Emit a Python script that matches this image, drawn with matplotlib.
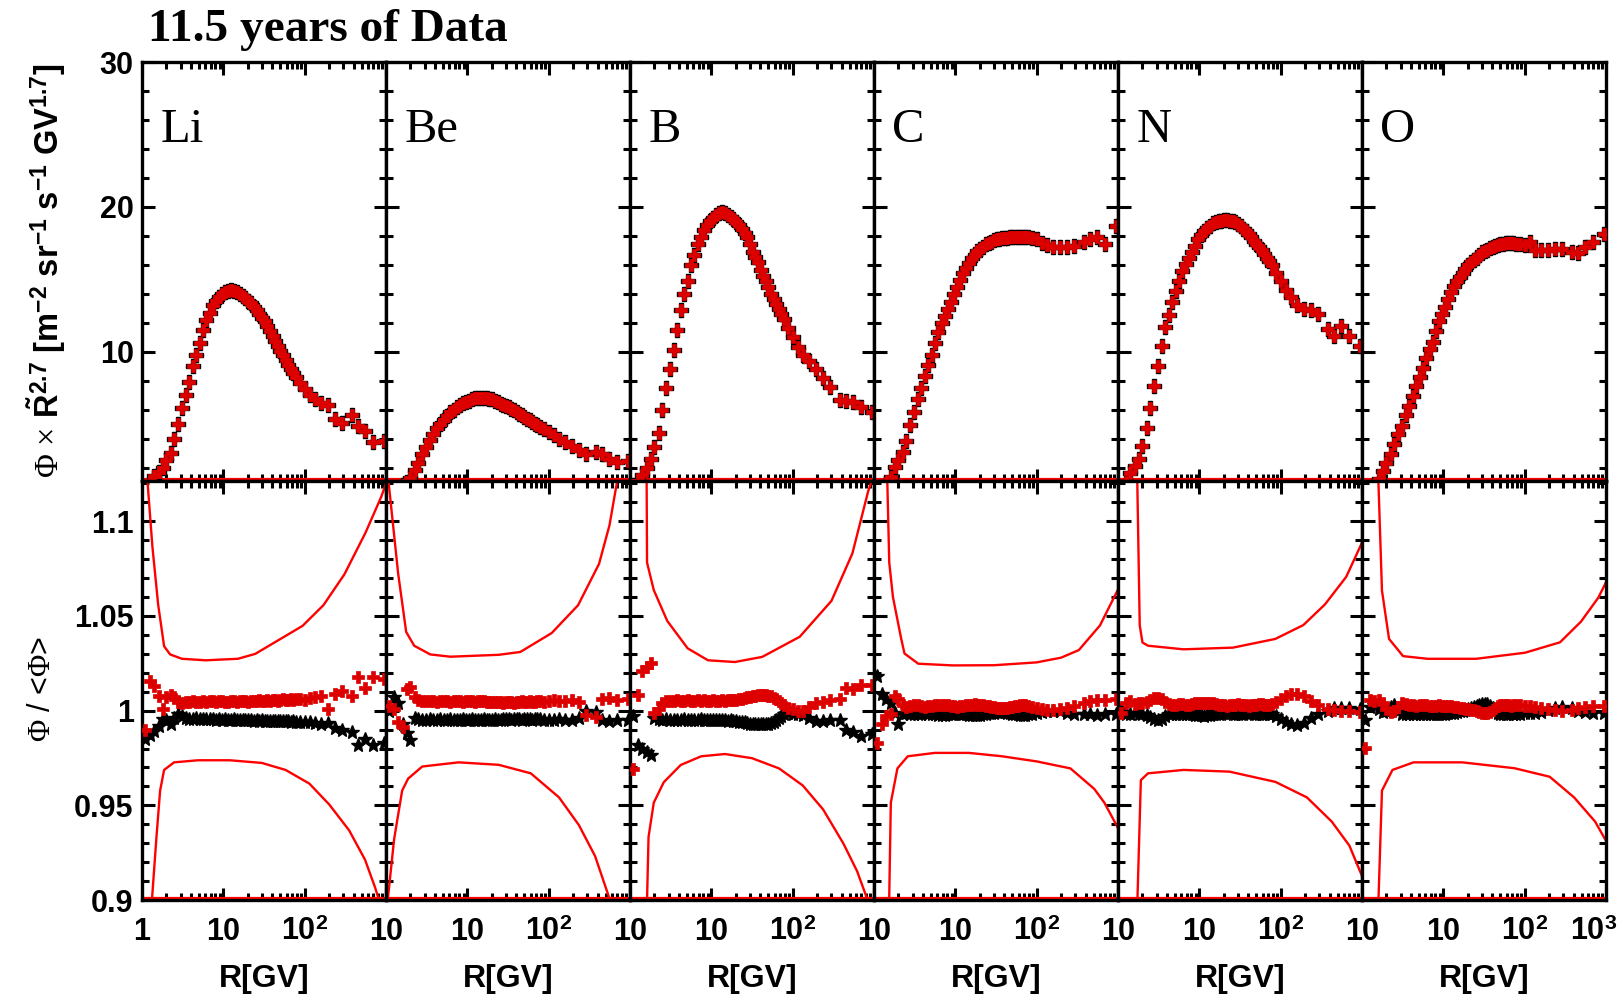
import matplotlib
matplotlib.use("Agg")
import matplotlib.pyplot as plt
from matplotlib.gridspec import GridSpec
from matplotlib.ticker import FixedLocator, FixedFormatter, LogLocator, MultipleLocator, NullFormatter

plt.rcParams['font.family'] = ['Liberation Sans', 'DejaVu Sans']
plt.rcParams['mathtext.fontset'] = 'custom'
plt.rcParams['mathtext.rm'] = 'Liberation Serif'
plt.rcParams['mathtext.it'] = 'Liberation Serif:italic'
plt.rcParams['mathtext.bf'] = 'Liberation Sans:bold'
plt.rcParams['mathtext.sf'] = 'Liberation Sans'

# ---------------- data ----------------
elements = ['Li', 'Be', 'B', 'C', 'N', 'O']

rigidity = [1.1, 1.25, 1.4, 1.6, 1.8, 2.0, 2.25, 2.5, 2.8, 3.1,
            3.45, 3.8, 4.2, 4.65, 5.1, 5.6, 6.2, 6.8, 7.4, 8.1,
            8.9, 9.7, 10.5, 11.5, 12.5, 13.5, 14.7, 15.9, 17.3, 18.7,
            20.3, 21.9, 23.7, 25.7, 27.7, 29.9, 32.3, 34.8, 37.5, 40.4,
            43.5, 46.8, 50.3, 54.1, 58.2, 62.5, 67.2, 72.3, 77.7, 86.5,
            100, 116, 135, 160, 192, 233, 291, 380, 455, 548,
            700, 950]

flux_li = [0.5, 0.9, 1.4, 1.7, 2.0, 2.5, 3.0, 4.0, 5.0, 6.1,
           7.0, 7.9, 9.0, 9.8, 10.6, 11.5, 12.2, 12.7, 13.2, 13.5,
           13.75, 13.95, 14.1, 14.2, 14.25, 14.2, 14.1, 14.0, 13.85, 13.7,
           13.5, 13.35, 13.1, 12.9, 12.6, 12.35, 12.1, 11.8, 11.45, 11.1,
           10.75, 10.4, 10.05, 9.75, 9.4, 9.1, 8.8, 8.5, 8.25, 7.85,
           7.45, 7.0, 6.75, 6.45, 6.3, 5.35, 5.1, 5.65, 4.9, 4.55,
           3.75, 3.85]
flux_be = [0.2, 0.4, 0.6, 0.8, 1.0, 1.3, 1.8, 2.3, 2.9, 3.45,
           3.9, 4.3, 4.7, 5.0, 5.3, 5.55, 5.8, 6.0, 6.15, 6.3,
           6.45, 6.55, 6.62, 6.7, 6.78, 6.8, 6.82, 6.82, 6.8, 6.76,
           6.7, 6.62, 6.5, 6.42, 6.33, 6.25, 6.15, 6.03, 5.95, 5.85,
           5.72, 5.6, 5.47, 5.38, 5.25, 5.15, 5.03, 4.93, 4.83, 4.65,
           4.45, 4.25, 4.0, 3.75, 3.5, 3.2, 2.9, 3.05, 2.95, 2.6,
           2.4, 2.45]
flux_b = [0.8, 1.1, 1.5, 1.95, 2.6, 3.4, 4.4, 6.0, 7.5, 8.8,
          10.1, 11.5, 12.9, 14.0, 14.9, 15.95, 16.7, 17.45, 17.95, 18.4,
          18.75, 19.0, 19.25, 19.45, 19.6, 19.65, 19.6, 19.45, 19.3, 19.15,
          18.98, 18.75, 18.5, 18.2, 17.9, 17.45, 16.9, 16.55, 16.2, 15.65,
          15.25, 14.85, 14.45, 14.0, 13.65, 13.3, 12.95, 12.6, 12.25, 11.65,
          11.0, 10.35, 9.75, 9.35, 8.8, 8.2, 7.55, 6.65, 6.6, 6.5,
          6.2, 5.8]
flux_c = [0.2, 0.5, 0.9, 1.35, 2.05, 2.5, 3.1, 3.85, 4.95, 5.85,
          6.75, 7.5, 8.35, 9.1, 9.8, 10.6, 11.35, 11.95, 12.45, 12.95,
          13.45, 13.95, 14.45, 14.95, 15.4, 15.8, 16.15, 16.45, 16.7, 16.95,
          17.1, 17.25, 17.4, 17.5, 17.6, 17.68, 17.75, 17.78, 17.82, 17.85,
          17.88, 17.9, 17.92, 17.93, 17.93, 17.93, 17.92, 17.9, 17.9, 17.88,
          17.75, 17.5, 17.35, 17.25, 17.25, 17.22, 17.3, 17.55, 17.8, 17.95,
          17.4, 18.7]
flux_n = [0.6, 1.0, 1.6, 2.1, 2.6, 3.5, 4.7, 6.1, 7.6, 9.0,
          10.4, 11.7, 12.5, 13.45, 14.2, 14.85, 15.55, 16.05, 16.45, 16.85,
          17.3, 17.75, 18.05, 18.35, 18.55, 18.7, 18.85, 18.95, 19.0, 19.05,
          19.08, 19.07, 19.05, 19.0, 18.95, 18.8, 18.65, 18.5, 18.35, 18.1,
          17.9, 17.65, 17.45, 17.2, 17.0, 16.75, 16.45, 16.25, 15.95, 15.45,
          14.85, 14.25, 13.75, 13.2, 12.95, 12.9, 12.6, 11.55, 11.05, 11.8,
          11.1, 10.4]
flux_o = [0.2, 0.5, 0.8, 1.2, 1.75, 2.3, 2.9, 3.65, 4.3, 4.9,
          5.6, 6.25, 6.95, 7.65, 8.25, 8.85, 9.55, 10.15, 10.7, 11.4,
          12.1, 12.6, 13.1, 13.65, 14.1, 14.5, 14.9, 15.15, 15.45, 15.7,
          15.95, 16.2, 16.35, 16.5, 16.7, 16.85, 16.95, 17.05, 17.15, 17.25,
          17.3, 17.37, 17.4, 17.45, 17.47, 17.48, 17.48, 17.47, 17.45, 17.4,
          17.37, 17.6, 17.05, 17.0, 17.0, 17.08, 17.1, 16.9, 16.8, 17.2,
          17.6, 18.1]

# ratio Phi/<Phi>: red and black series
ratio_red_li = [0.990, 1.0155, 1.013, 1.008, 1.001, 1.007, 1.0085, 1.007, 1.0045, 1.004,
                1.0045, 1.0045, 1.005, 1.0045, 1.0045, 1.005, 1.0045, 1.005, 1.005, 1.0045,
                1.005, 1.005, 1.0048, 1.0045, 1.005, 1.005, 1.0048, 1.005, 1.0052, 1.005,
                1.0048, 1.005, 1.0052, 1.005, 1.0055, 1.005, 1.0052, 1.0055, 1.005, 1.0055,
                1.0058, 1.0052, 1.0055, 1.006, 1.0055, 1.0058, 1.006, 1.0055, 1.006, 1.0062,
                1.0058, 1.0065, 1.007, 1.0075, 1.001, 1.009, 1.0105, 1.008, 1.018, 1.012,
                1.018, 1.0165]
ratio_blk_li = [0.985, 0.987, 0.9895, 0.992, 0.9955, 0.995, 0.993, 0.996, 0.998, 0.997,
                0.996, 0.9955, 0.9955, 0.996, 0.9955, 0.9955, 0.9958, 0.9955, 0.9955, 0.9952,
                0.9955, 0.9952, 0.9955, 0.9952, 0.995, 0.9955, 0.9952, 0.995, 0.9952, 0.995,
                0.9952, 0.995, 0.9948, 0.995, 0.9948, 0.995, 0.9948, 0.9946, 0.9948, 0.9946,
                0.9948, 0.9945, 0.9946, 0.9944, 0.9946, 0.9944, 0.9942, 0.9945, 0.9942, 0.994,
                0.9942, 0.994, 0.9935, 0.993, 0.9935, 0.991, 0.990, 0.9885, 0.982, 0.985,
                0.982, 0.983]
ratio_red_be = [1.0024, 1.001, 0.994, 0.9915, 1.0115, 1.0124, 1.007, 1.0055, 1.005, 1.005,
                1.0052, 1.005, 1.0048, 1.005, 1.0052, 1.005, 1.0048, 1.005, 1.0052, 1.005,
                1.0048, 1.005, 1.0052, 1.005, 1.0048, 1.005, 1.0052, 1.005, 1.0048, 1.0045,
                1.0048, 1.0045, 1.0048, 1.0045, 1.0042, 1.0045, 1.0048, 1.0045, 1.0042, 1.0045,
                1.0048, 1.005, 1.0045, 1.0048, 1.005, 1.0045, 1.0048, 1.005, 1.0052, 1.0048,
                1.005, 1.0055, 1.0052, 1.005, 1.0058, 1.0045, 0.9975, 0.9965, 1.006, 1.0065,
                1.0058, 1.0062]
ratio_blk_be = [1.0, 1.007, 1.004, 0.9932, 0.988, 0.9845, 0.9962, 0.9955, 0.995, 0.9952,
                0.9955, 0.995, 0.9952, 0.9955, 0.995, 0.9952, 0.9955, 0.995, 0.9952, 0.995,
                0.9955, 0.9952, 0.995, 0.9955, 0.9952, 0.995, 0.9952, 0.9955, 0.995, 0.9952,
                0.995, 0.9955, 0.9952, 0.995, 0.9955, 0.9957, 0.9955, 0.9952, 0.9955, 0.9957,
                0.9955, 0.9952, 0.9955, 0.9958, 0.9955, 0.9952, 0.9955, 0.9957, 0.9955, 0.995,
                0.9952, 0.995, 0.9955, 0.9952, 0.995, 0.996, 1.0, 0.9995, 0.995, 0.9948,
                0.9952, 0.995]
ratio_red_b = [0.969, 1.0085, 1.021, 1.023, 1.025, 0.999, 1.0008, 1.004, 1.005, 1.0052,
               1.005, 1.0055, 1.0052, 1.005, 1.0055, 1.0052, 1.005, 1.0055, 1.0052, 1.0055,
               1.005, 1.0052, 1.0055, 1.005, 1.0052, 1.0055, 1.0052, 1.0055, 1.0058, 1.0055,
               1.0058, 1.006, 1.0062, 1.0065, 1.007, 1.0072, 1.0078, 1.008, 1.0083, 1.0085,
               1.0085, 1.0083, 1.008, 1.0075, 1.0068, 1.006, 1.005, 1.004, 1.003, 1.0015,
               1.0008, 1.0, 0.9998, 1.002, 1.004, 1.0048, 1.0055, 1.006, 1.012, 1.0112,
               1.0138, 1.0135]
ratio_blk_b = [0.997, 0.982, 0.980, 0.978, 0.9768, 0.996, 0.9955, 0.9953, 0.9955, 0.9952,
               0.9953, 0.995, 0.9953, 0.9955, 0.9952, 0.9953, 0.995, 0.9953, 0.9955, 0.9952,
               0.9953, 0.995, 0.9952, 0.9953, 0.995, 0.9952, 0.995, 0.9948, 0.995, 0.9948,
               0.9945, 0.9942, 0.994, 0.9938, 0.9935, 0.9932, 0.993, 0.9928, 0.9927, 0.9927,
               0.9927, 0.9928, 0.993, 0.9935, 0.994, 0.995, 0.996, 0.997, 0.998, 0.9988,
               0.9985, 0.998, 0.9978, 0.996, 0.9945, 0.9948, 0.9953, 0.995, 0.990, 0.9885,
               0.9865, 0.9875]
ratio_red_c = [0.983, 0.9931, 0.997, 0.9985, 1.0075, 1.006, 1.003, 1.002, 1.0025, 1.003,
               1.0028, 1.0025, 1.002, 1.0022, 1.0025, 1.0028, 1.003, 1.0032, 1.003, 1.0028,
               1.0025, 1.0022, 1.002, 1.0022, 1.0025, 1.0028, 1.003, 1.0032, 1.0033, 1.0032,
               1.003, 1.0028, 1.0025, 1.0022, 1.002, 1.0018, 1.0015, 1.0013, 1.0012, 1.0013,
               1.0015, 1.0018, 1.002, 1.0022, 1.0025, 1.0028, 1.003, 1.0028, 1.0025, 1.002,
               1.0015, 1.001, 1.0005, 1.0003, 1.0008, 1.0015, 1.0025, 1.004, 1.005, 1.0055,
               1.0058, 1.006]
ratio_blk_c = [1.0184, 1.009, 1.006, 1.004, 0.999, 0.9931, 0.9985, 0.999, 0.9985, 0.998,
               0.9982, 0.9985, 0.9988, 0.9985, 0.9982, 0.998, 0.9978, 0.9975, 0.9978, 0.998,
               0.9982, 0.9985, 0.9988, 0.9985, 0.9982, 0.998, 0.9978, 0.9976, 0.9975, 0.9976,
               0.9978, 0.998, 0.9983, 0.9986, 0.9988, 0.999, 0.9992, 0.9993, 0.9993, 0.9992,
               0.999, 0.9988, 0.9985, 0.9982, 0.998, 0.9978, 0.9976, 0.9978, 0.998, 0.9984,
               0.9988, 0.9993, 0.9998, 1.0, 0.9996, 0.999, 0.9985, 0.998, 0.998, 0.9978,
               0.998, 0.998]
ratio_red_n = [0.999, 1.004, 1.005, 1.0035, 1.004, 1.0038, 1.0045, 1.0055, 1.0065, 1.0068,
               1.006, 1.0045, 1.0035, 1.003, 1.0032, 1.0035, 1.0033, 1.003, 1.0032, 1.0035,
               1.0038, 1.004, 1.0042, 1.0043, 1.0042, 1.004, 1.0038, 1.0035, 1.0032, 1.003,
               1.0028, 1.0027, 1.0028, 1.003, 1.0032, 1.0033, 1.0032, 1.003, 1.0028, 1.0027,
               1.0028, 1.003, 1.0032, 1.0035, 1.0033, 1.003, 1.0028, 1.003, 1.0035, 1.0045,
               1.006, 1.0075, 1.0088, 1.009, 1.008, 1.005, 1.003, 1.001, 1.0005, 1.0,
               0.9998, 0.9995]
ratio_blk_n = [1.001, 0.9985, 0.998, 0.999, 0.9985, 0.9982, 0.9975, 0.9965, 0.9955, 0.995,
               0.9958, 0.997, 0.998, 0.9985, 0.9983, 0.998, 0.9982, 0.9985, 0.9983, 0.998,
               0.9978, 0.9976, 0.9975, 0.9974, 0.9975, 0.9977, 0.998, 0.9982, 0.9984, 0.9985,
               0.9986, 0.9987, 0.9986, 0.9985, 0.9984, 0.9983, 0.9984, 0.9985, 0.9986, 0.9987,
               0.9986, 0.9985, 0.9984, 0.9983, 0.9984, 0.9985, 0.9986, 0.9984, 0.998, 0.997,
               0.9955, 0.994, 0.9928, 0.9925, 0.9935, 0.996, 0.9985, 1.0, 1.0012, 1.0015,
               1.0012, 1.001]
ratio_red_o = [0.9805, 1.0058, 1.005, 1.0055, 1.004, 1.001, 0.9995, 1.0, 1.002, 1.004,
               1.0035, 1.003, 1.0028, 1.0027, 1.0028, 1.003, 1.0028, 1.0027, 1.0026, 1.0027,
               1.0028, 1.0027, 1.0026, 1.0025, 1.0022, 1.002, 1.0018, 1.0015, 1.0012, 1.001,
               1.0008, 1.0005, 1.0002, 1.0, 0.9995, 0.999, 0.9988, 0.999, 0.9995, 1.0005,
               1.0015, 1.0025, 1.003, 1.0032, 1.003, 1.0028, 1.0027, 1.0028, 1.003, 1.0028,
               1.0025, 1.0022, 1.002, 1.0015, 1.001, 1.0005, 1.0, 1.0005, 1.0015, 1.002,
               1.0022, 1.0025]
ratio_blk_o = [0.9951, 1.002, 1.003, 1.001, 0.9995, 1.0, 1.002, 1.003, 1.0, 0.998,
               0.998, 0.9982, 0.9983, 0.9984, 0.9983, 0.9982, 0.9983, 0.9984, 0.9985, 0.9984,
               0.9983, 0.9984, 0.9985, 0.9986, 0.9988, 0.999, 0.9993, 0.9996, 1.0, 1.0005,
               1.001, 1.0015, 1.002, 1.0025, 1.003, 1.0035, 1.0037, 1.0033, 1.0025, 1.0012,
               1.0, 0.999, 0.9985, 0.9983, 0.9984, 0.9985, 0.9986, 0.9985, 0.9984, 0.9985,
               0.9986, 0.9988, 0.999, 0.9995, 1.0005, 1.0015, 1.002, 1.0012, 1.0, 0.9992,
               0.999, 0.999]

# uncertainty band (red lines) in the ratio panels
band_up_r_li = [1.15, 1.34, 1.58, 1.87, 2.22, 3.1, 6.1, 15.1, 24.7, 44.9, 94.3, 170, 308, 560, 875, 1000]
band_up_v_li = [1.125, 1.087, 1.056, 1.034, 1.0297, 1.0274, 1.0266, 1.0274, 1.030, 1.0366, 1.0448, 1.0557, 1.072, 1.094, 1.113, 1.12]
band_lo_r_li = [1.3, 1.5, 1.67, 1.87, 2.48, 4.88, 12, 29.7, 58.2, 114, 200, 352, 552, 733, 820]
band_lo_v_li = [0.895, 0.9323, 0.9578, 0.9687, 0.9727, 0.9738, 0.9738, 0.9724, 0.9687, 0.9615, 0.9505, 0.9368, 0.9213, 0.9067, 0.9]
band_up_r_be = [1.05, 1.41, 1.77, 2.22, 3.5, 6.2, 24.3, 44.8, 109, 230, 416, 560, 700]
band_up_v_be = [1.125, 1.0725, 1.0416, 1.0343, 1.0297, 1.0285, 1.0295, 1.031, 1.041, 1.0557, 1.0775, 1.098, 1.122]
band_lo_r_be = [1.05, 1.26, 1.58, 1.87, 2.79, 7.8, 24.3, 60.3, 134, 235, 372, 553]
band_lo_v_be = [0.9, 0.9323, 0.9578, 0.9641, 0.9705, 0.9727, 0.9714, 0.9669, 0.9542, 0.9396, 0.9232, 0.9014]
band_up_r_b = [1.6, 1.62, 1.96, 2.87, 5.12, 9.1, 19.5, 42.2, 122, 300, 542, 849, 1000]
band_up_v_b = [1.125, 1.0782, 1.0637, 1.0474, 1.0329, 1.0266, 1.0257, 1.0284, 1.039, 1.058, 1.083, 1.116, 1.125]
band_lo_r_b = [1.61, 1.69, 1.96, 2.6, 4.2, 7.5, 14.7, 31.6, 68, 133, 237, 422, 620, 825]
band_lo_v_b = [0.895, 0.9333, 0.9514, 0.9622, 0.9713, 0.9759, 0.9771, 0.9749, 0.9695, 0.9605, 0.9478, 0.9297, 0.9152, 0.9006]
band_up_r_c = [1.45, 1.54, 1.71, 2.15, 2.37, 3.5, 9.3, 30, 100, 200, 330, 600, 1000]
band_up_v_c = [1.125, 1.0782, 1.06, 1.0384, 1.0302, 1.0248, 1.0239, 1.024, 1.0255, 1.028, 1.032, 1.045, 1.064]
band_lo_r_c = [1.53, 1.61, 1.94, 2.6, 5.6, 14.7, 37.6, 100, 260, 510, 680, 1000]
band_lo_v_c = [0.895, 0.9514, 0.9695, 0.9759, 0.9777, 0.9777, 0.9759, 0.9732, 0.9695, 0.9587, 0.9514, 0.938]
band_up_r_n = [1.72, 1.85, 2.0, 2.34, 6.4, 26, 86, 190, 350, 640, 1050]
band_up_v_n = [1.125, 1.045, 1.036, 1.0343, 1.0324, 1.0333, 1.0379, 1.0452, 1.0561, 1.0707, 1.0907]
band_lo_r_n = [1.72, 1.91, 2.34, 6.4, 23.4, 86, 210, 425, 700, 1050]
band_lo_v_n = [0.895, 0.9633, 0.9669, 0.9687, 0.9678, 0.9624, 0.9542, 0.9414, 0.9287, 0.9105]
band_up_r_o = [1.58, 1.76, 2.15, 3.2, 6.4, 25.4, 101, 272, 492, 805, 1080]
band_up_v_o = [1.125, 1.0634, 1.0379, 1.0288, 1.0274, 1.0274, 1.0306, 1.0361, 1.047, 1.0597, 1.0707]
band_lo_r_o = [1.58, 1.76, 2.37, 4.3, 17.1, 75, 203, 405, 735, 1080]
band_lo_v_o = [0.895, 0.9578, 0.9687, 0.9727, 0.9727, 0.9696, 0.9651, 0.9542, 0.9414, 0.9287]

flux = [flux_li, flux_be, flux_b, flux_c, flux_n, flux_o]
ratio_red = [ratio_red_li, ratio_red_be, ratio_red_b, ratio_red_c, ratio_red_n, ratio_red_o]
ratio_blk = [ratio_blk_li, ratio_blk_be, ratio_blk_b, ratio_blk_c, ratio_blk_n, ratio_blk_o]
band_up = [(band_up_r_li, band_up_v_li), (band_up_r_be, band_up_v_be), (band_up_r_b, band_up_v_b),
           (band_up_r_c, band_up_v_c), (band_up_r_n, band_up_v_n), (band_up_r_o, band_up_v_o)]
band_lo = [(band_lo_r_li, band_lo_v_li), (band_lo_r_be, band_lo_v_be), (band_lo_r_b, band_lo_v_b),
           (band_lo_r_c, band_lo_v_c), (band_lo_r_n, band_lo_v_n), (band_lo_r_o, band_lo_v_o)]

flux_ticks = [10, 20, 30]
ratio_ticks = [0.9, 0.95, 1.0, 1.05, 1.1]
ratio_tick_labels = ['0.9', '0.95', '1', '1.05', '1.1']
x_ticks = [1, 10, 100, 1000]

# ---------------- figure ----------------
RED = '#dd0000'
LINE_RED = '#ff0000'
W, H = 1623, 1000
fig = plt.figure(figsize=(W / 100, H / 100), dpi=100)
gs = GridSpec(2, 6, figure=fig, left=142 / W, right=1606 / W, top=1 - 62 / H, bottom=1 - 900 / H,
              wspace=0, hspace=0)

TICK_FS = 22
spine_w = 2.4

def style(ax):
    ax.set_xscale('log')
    ax.set_xlim(1, 1000)
    ax.xaxis.set_major_locator(FixedLocator(x_ticks))
    ax.xaxis.set_minor_locator(LogLocator(base=10, subs=range(2, 10), numticks=20))
    ax.xaxis.set_minor_formatter(NullFormatter())
    ax.tick_params(which='both', direction='in', top=True, right=True, width=2.2, colors='black')
    ax.tick_params(which='major', length=9)
    ax.tick_params(which='minor', length=5)
    for s in ax.spines.values():
        s.set_linewidth(spine_w)

for i, el in enumerate(elements):
    axt = fig.add_subplot(gs[0, i])
    axb = fig.add_subplot(gs[1, i])
    style(axt)
    style(axb)

    # flux panel
    axt.plot(rigidity, flux[i], ls='none', marker='P', ms=9.5, color='black', mec='black', zorder=3)
    axt.plot(rigidity, flux[i], ls='none', marker='P', ms=8.5, color=RED, mec=RED, mew=0.5, zorder=4)
    axt.plot([0, 1], [0.004, 0.004], transform=axt.transAxes, color=LINE_RED, lw=1.6, zorder=2)
    axt.set_ylim(1.07, 30)
    axt.yaxis.set_major_locator(FixedLocator(flux_ticks))
    axt.yaxis.set_minor_locator(MultipleLocator(2))
    axt.set_xticklabels([])
    axt.text(0.075, 0.81, el, transform=axt.transAxes, fontsize=35,
             family='Liberation Serif', va='baseline', ha='left')

    # ratio panel
    axb.plot(band_up[i][0], band_up[i][1], color=LINE_RED, lw=1.7, zorder=2)
    axb.plot(band_lo[i][0], band_lo[i][1], color=LINE_RED, lw=1.7, zorder=2)
    axb.plot([0, 1], [0.004, 0.004], transform=axb.transAxes, color=LINE_RED, lw=1.6, zorder=2)
    axb.plot(rigidity, ratio_blk[i], ls='none', marker='*', ms=10, color='black', mec='black', zorder=3)
    axb.plot(rigidity, ratio_red[i], ls='none', marker='P', ms=8, color=RED, mec=RED, mew=0.5, zorder=4)
    axb.set_ylim(0.9, 1.1213)
    axb.yaxis.set_major_locator(FixedLocator(ratio_ticks))
    axb.yaxis.set_minor_locator(MultipleLocator(0.01))

    last = (i == len(elements) - 1)
    xl = ['1' if i == 0 else '', '10', r'$\mathbf{10}^{\mathbf{2}}$', '' if last else '10']
    axb.xaxis.set_major_formatter(FixedFormatter(xl))
    axb.tick_params(axis='x', which='major', pad=12, labelsize=TICK_FS)
    for lab in axb.get_xticklabels():
        lab.set_fontweight('bold')
    if last:
        axb.annotate(r'$\mathbf{10}^{\mathbf{3}}$', xy=(1000, 0), xycoords=('data', 'axes fraction'),
                     xytext=(-9, -12), textcoords='offset points', ha='center', va='top',
                     fontsize=TICK_FS)

    if i == 0:
        axt.yaxis.set_major_formatter(FixedFormatter([str(t) for t in flux_ticks]))
        axb.yaxis.set_major_formatter(FixedFormatter(ratio_tick_labels))
        for ax in (axt, axb):
            ax.tick_params(axis='y', which='major', pad=6, labelsize=TICK_FS)
            for lab in ax.get_yticklabels():
                lab.set_fontweight('bold')
    else:
        axt.set_yticklabels([])
        axb.set_yticklabels([])

    pos = axb.get_position()
    fig.text((pos.x0 + pos.x1) / 2, 1 - 979 / H, 'R[GV]', fontsize=23, fontweight='bold',
             ha='center', va='center')

fig.text(148 / W, 1 - 41 / H, '11.5 years of Data', fontsize=34, fontweight='bold',
         family='Liberation Serif', ha='left', va='baseline')

fig.text(47 / W, 1 - 271 / H,
         r'$\Phi$ $\times$ $\mathbf{\tilde{R}}^{\mathbf{2.7}}$ [m$^{\mathbf{-2}}$ sr$^{\mathbf{-1}}$ s$^{\mathbf{-1}}$ GV$^{\mathbf{1.7}}$]',
         rotation=90, fontsize=23.5, fontweight='bold', ha='center', va='center')
fig.text(42 / W, 1 - 689 / H, r'$\Phi$ / <$\Phi$>', rotation=90, fontsize=22,
         ha='center', va='center')

fig.savefig('out.png', dpi=100)
